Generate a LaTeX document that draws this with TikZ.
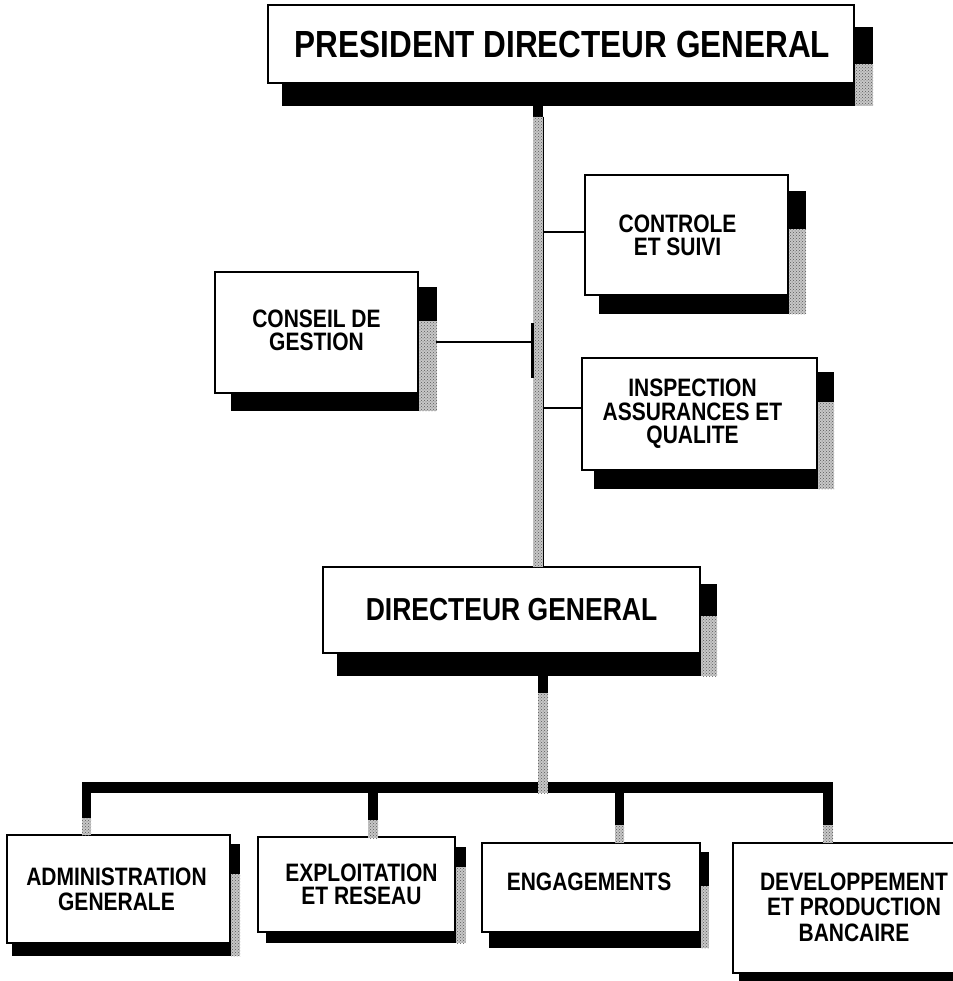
\documentclass[tikz,border=0pt]{standalone}
\usepackage{fontspec}
\setmainfont{Liberation Sans}
\usepackage{graphicx}
\usetikzlibrary{patterns,calc}
% #1 size, #2 baselineskip, #3 dx, #4 raise, #5 lines separated by \cr
\newcommand\boxtext[5]{\raisebox{#4pt}{\hspace*{#3pt}\scalebox{1}[1.2]{\vbox{\fontsize{#1}{#2}\selectfont\bfseries\lineskiplimit=-50pt\halign{\hfil##\hfil\cr#5\crcr}}}\hspace*{-#3pt}}}
% #1 node, #2 right width, #3 bottom thickness, #4 bottom inset, #5 black start, #6 black end
\newcommand\shd[6]{%
  \fill[black] ($(#1.south west)+(#4,0)$) rectangle ($(#1.south east)+(#2,#3)$);
  \fill[black] ($(#1.north east)+(0,#5)$) rectangle ($(#1.north east)+(#2,#6)$);
  \path[stip] ($(#1.north east)+(0,#6)$) rectangle ($(#1.south east)+(#2,#3)$);
}
\begin{document}
\begin{tikzpicture}[x=1pt,y=-1pt,
  box/.style={draw=black,line width=2pt,fill=white,inner sep=0pt,rectangle},
  stip/.style={fill=black!22,postaction={pattern=crosshatch dots,pattern color=black!65}},
  conn/.style={line width=2.5pt}]
\useasboundingbox (0,0) rectangle (952,981);

% boxes
\node[box,minimum width=586pt,minimum height=78pt] (pdg) at (561,44)
  {\boxtext{31.5}{34}{1.5}{-3.5}{PRESIDENT DIRECTEUR GENERAL}};
\node[box,minimum width=203pt,minimum height=120pt] (ctrl) at (686.5,235)
  {\boxtext{21}{19}{-9}{-3}{CONTROLE\cr ET SUIVI}};
\node[box,minimum width=203pt,minimum height=121pt] (cons) at (316.5,332.5)
  {\boxtext{21}{19.5}{0}{5}{CONSEIL DE\cr GESTION}};
\node[box,minimum width=235pt,minimum height=112pt] (insp) at (699.5,414)
  {\boxtext{21}{19.5}{-7}{-12}{INSPECTION\cr ASSURANCES ET\cr QUALITE}};
\node[box,minimum width=377pt,minimum height=86pt] (dg) at (511.5,610)
  {\boxtext{26.5}{30}{0}{-1}{DIRECTEUR GENERAL}};
\node[box,minimum width=223pt,minimum height=108pt] (adm) at (118.5,889)
  {\boxtext{21}{21}{-2}{-1}{ADMINISTRATION\cr GENERALE}};
\node[box,minimum width=197pt,minimum height=95pt] (expl) at (356.5,884.5)
  {\boxtext{21}{19.5}{5}{0}{EXPLOITATION\cr ET RESEAU}};
\node[box,minimum width=218pt,minimum height=89pt] (eng) at (591,887.5)
  {\boxtext{21}{18}{-2}{12}{ENGAGEMENTS}};
\node[box,minimum width=242pt,minimum height=130pt] (dev) at (854,908)
  {\boxtext{21}{21}{0}{2}{DEVELOPPEMENT\cr ET PRODUCTION\cr BANCAIRE}};

% shadows
\shd{pdg}{18}{22}{15}{23}{60}
\shd{ctrl}{17}{18}{15}{17}{55}
\shd{cons}{18}{17}{17}{16}{50}
\shd{insp}{16}{18}{13}{15}{45}
\shd{dg}{16}{22}{15}{18}{50}
\shd{adm}{9}{12}{6}{10}{40}
\shd{expl}{10}{10}{9}{11}{31}
\shd{eng}{8}{15}{8}{10}{44}
\fill[black] ($(dev.south west)+(7,0)$) rectangle ($(dev.south east)+(0,8)$);

% upper trunk
\coordinate (ta) at (538,105);
\coordinate (tb) at (538,567);
\fill[black] ($(ta)+(-5,0)$) rectangle ($(ta)+(5,12)$);
\path[stip] ($(ta)+(-5,12)$) rectangle ($(tb)+(5,0)$);
\draw[line width=1pt] ($(ta)+(5,12)$) -- ($(tb)+(5,0)$);

% side connectors
\coordinate (tr1) at (543,232);
\draw[conn] (tr1) -- (tr1 -| ctrl.west);
\coordinate (cs) at (436,342);
\coordinate (tl) at (533,342);
\draw[conn] (cs) -- (tl);
\coordinate (m1) at (532,323);
\coordinate (m2) at (532,378);
\draw[line width=3pt] (m1) -- (m2);
\coordinate (tr2) at (543,408);
\draw[conn] (tr2) -- (tr2 -| insp.west);

% lower trunk and bus
\coordinate (bl) at (82,782);
\coordinate (br) at (832,793);
\fill[black] (bl) rectangle (br);
\coordinate (tc) at (543,675);
\coordinate (td) at (543,793);
\fill[black] ($(tc)+(-5,0)$) rectangle ($(tc)+(5,18)$);
\path[stip] ($(tc)+(-5,18)$) rectangle ($(td)+(5,0)$);

% drops
\fill[black] (82,782) rectangle (91,818);
\path[stip] (82,818) rectangle (91,835);
\fill[black] (368,782) rectangle (378,820);
\path[stip] (368,820) rectangle (378,838);
\fill[black] (615,782) rectangle (624,825);
\path[stip] (615,825) rectangle (624,843);
\fill[black] (823,782) rectangle (833,825);
\path[stip] (823,825) rectangle (833,843);
\end{tikzpicture}
\end{document}
